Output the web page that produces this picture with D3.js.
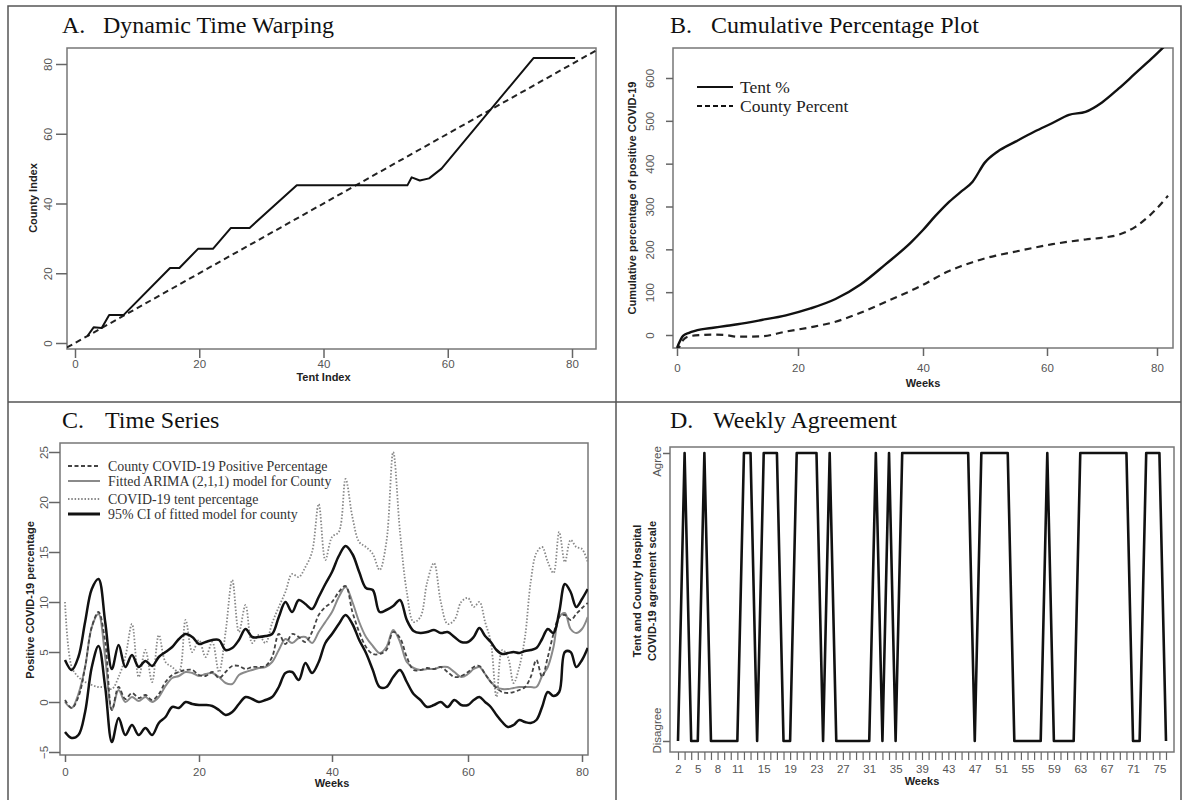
<!DOCTYPE html>
<html>
<head>
<meta charset="utf-8">
<script src="https://cdn.jsdelivr.net/npm/d3@7"></script>
<style>
body { margin: 0; background: #fff; }
svg text { font-family: "Liberation Sans", Arial, sans-serif; }
.title { font-family: "Liberation Serif", "Times New Roman", serif; font-size: 24px; fill: #111; }
.tk { font-size: 11.5px; fill: #555; }
.lab { font-size: 11px; font-weight: bold; fill: #222; }
.leg { font-family: "Liberation Serif", "Times New Roman", serif; fill: #222; }
</style>
</head>
<body>
<svg id="fig" width="1183" height="800"></svg>
<script>
// A. dynamic time warping path
var dtwTent = [2, 3, 4.3, 5.5, 7.8, 15.3, 16.8, 19.8, 22.2, 25.1, 28.1, 35.7, 53.5, 54.2, 55.5, 57, 59, 73.8, 80.5];
var dtwCounty = [2, 4.5, 4.3, 8, 8, 21.5, 21.5, 27, 27, 33, 33, 45.2, 45.2, 47.5, 46.6, 47.2, 50, 81.7, 81.7];
var ticksA = [0, 20, 40, 60, 80];

// B. cumulative percentages
var cumWeeks = [0, 1, 2, 4, 6, 8, 10, 14, 18, 22, 26, 30, 34, 38, 40, 42, 44, 46, 48, 50, 52, 55, 58, 61, 64, 67, 70, 73, 76, 79, 82];
var tentCum = [-30, -2, 5, 13, 17, 21, 25, 35, 46, 62, 84, 118, 165, 215, 245, 278, 308, 333, 358, 403, 428, 452, 475, 495, 514, 521, 543, 575, 610, 645, 682];
var countyCum = [-40, -12, -3, 0, 1, 0, -4, -3, 8, 18, 31, 52, 77, 103, 117, 133, 148, 160, 170, 179, 186, 195, 204, 212, 218, 223, 227, 234, 252, 283, 325];
var ticksBx = [0, 20, 40, 60, 80];
var ticksBy = [0, 100, 200, 300, 400, 500, 600];

// C. weekly time series, weeks 0..81
var weeksC = d3.range(0, 82);
var countyPct = [0.2, -0.6, 0.5, 3.5, 7.5, 9, 6, -0.8, 1.5, 0.3,
  0.9, 0.4, 0.7, 0.2, 0.8, 2, 2.7, 3, 3.2, 3.2,
  2.7, 2.6, 3, 2.4, 3, 3.6, 3.6, 3.3, 3.5, 3.5,
  3.6, 4.5, 6.8, 5.8, 6.8, 6.5, 6, 7, 8.7, 9.5,
  10, 11, 11.6, 9, 7, 5.5, 4.8, 4.8, 5.2, 7,
  6.4, 4.5, 3.2, 3.2, 3.4, 3.3, 3.5, 3, 2.5, 2.6,
  3, 3.5, 3.6, 2.8, 2, 1.4, 1, 0.9, 1, 1.2,
  1.5, 2.5, 4.2, 2.5, 4.5, 6.8, 8.5, 8.7, 8.2, 8.8,
  9.4, 9.9];
var fittedPct = [0, -0.6, 0.8, 3.5, 7.5, 8.8, 4.5, -0.8, 1.2, 0,
  0.5, 0.1, 0.5, 0, 0.5, 1.6, 2.4, 2.6, 3, 2.9,
  2.6, 2.8, 2.9, 2.5, 1.9, 1.8, 2.7, 3, 3.2, 3.4,
  3.5, 4, 5.2, 6.3, 5.9, 6.4, 6.5, 5.9, 7, 8,
  9, 10.5, 11.5, 10, 8, 6.5, 5.6, 4.9, 5.5, 7.2,
  6, 4, 3.4, 3.2, 3.3, 3.3, 3.5, 3.5, 3, 2.5,
  2.8, 3.3, 3.5, 2.8, 2, 1.5, 1.3, 1.3, 1.4, 1.5,
  1.5, 1.5, 1.5, 2.6, 3.5, 5.5, 8.5, 8.9, 7.3, 6.9,
  7.3, 8.5];
var tentPct = [10, 3.5, 2.5, 2, 1.7, 1.5, 1.5, 1.3, 2.5, 4.5,
  7.8, 2.5, 5.2, 2, 6.7, 4, 3.5, 3, 8.2, 5,
  6.2, 4.5, 6, 3, 7, 12.2, 7, 9.7, 5.9, 6.7,
  5.9, 7.9, 9.5, 11, 12.8, 12.5, 13.5, 15, 19.8, 14.2,
  16.5, 17, 22.3, 18.5, 16, 15.5, 14.8, 13.2, 16, 25,
  17, 11, 8, 8.5, 12, 13.9, 10, 7.8, 8.2, 10,
  10.4, 9.5, 10, 8, 6, 0.5, 5.2, 4.5, 1.9, 3.5,
  6.5, 12, 14.9, 15.5, 14, 12.9, 17, 14, 16.2, 15.5,
  15.3, 14];
var upperCI = [4.2, 3.2, 4.5, 8, 11.3, 12.3, 8, 3.3, 5.7, 3.5,
  4.7, 3.5, 4.1, 3.6, 4.5, 5, 5.5, 6.3, 6.8, 6.5,
  5.8, 6, 6.2, 6.2, 5.2, 5.4, 6.2, 7.3, 6.5, 6.5,
  6.6, 6.8, 8.5, 10, 9, 10.2, 9.8, 9.3, 10.5, 11.8,
  13, 14.6, 15.6, 14.8, 13, 11.4, 11.2, 9, 9.2, 9.6,
  10.2, 8.2, 7.1, 6.9, 7, 7.2, 6.9, 7, 6.5, 6,
  6, 6.5, 7.4, 6.6, 6, 5.2, 4.8, 4.9, 5, 4.9,
  5.1, 5.2, 5.4, 6.3, 7.3, 6.9, 9, 11.8, 11, 9.5,
  10.3, 11.3];
var lowerCI = [-3, -3.6, -3.3, -1, 3.5, 5.6, 1.5, -4, -1.6, -3.3,
  -2.3, -3.3, -2.6, -3.3, -2.1, -1.5, -0.5, -0.6, 0, -0.2,
  -0.3, -0.3, -0.4, -0.8, -1.3, -1, -0.2, 0.5, 0.3, 0,
  0.2, 0.5, 1.5, 2.9, 3, 2.2, 3.9, 2.9, 4, 5.9,
  6.8, 7.8, 8.7, 7.8, 6.2, 4.9, 3.2, 1.5, 1.5, 2.5,
  3.2, 2, 0.8, 0.2, -0.5, -0.3, 0, -0.5, 0.2, -0.3,
  -0.3, 0.2, 0.5, 0, -0.5, -1.3, -2, -2.5, -2.3, -1.8,
  -2, -2.1, -1.8, -0.5, 1, 0.6, 1, 5, 5, 3.5,
  4.2, 5.4];
var ticksCx = [0, 20, 40, 60, 80];
var ticksCy = [-5, 0, 5, 10, 15, 20, 25];
var legendC = ['County COVID-19 Positive Percentage', 'Fitted ARIMA (2,1,1) model for County',
  'COVID-19 tent percentage', '95% CI of fitted model for county'];

// D. weekly agreement (1 = agree, 0 = disagree), weeks 2..76
var weeksD = d3.range(2, 77);
var agreement = [0, 1, 0, 0, 1, 0, 0, 0, 0, 0,
  1, 1, 0, 1, 1, 1, 0, 0, 1, 1,
  1, 1, 0, 1, 0, 0, 0, 0, 0, 0,
  1, 0, 1, 0, 1, 1, 1, 1, 1, 1,
  1, 1, 1, 1, 1, 0, 1, 1, 1, 1,
  1, 0, 0, 0, 0, 0, 1, 0, 0, 0,
  0, 1, 1, 1, 1, 1, 1, 1, 1, 0,
  0, 1, 1, 1, 0];
var labelsD = [2, 5, 8, 11, 15, 19, 23, 27, 31, 35, 39, 43, 47, 51, 55, 59, 63, 67, 71, 75];

var svg = d3.select('#fig'),
	clipN = 0;

// outer frame and panel dividers
svg.append('rect').attr('x', 8).attr('y', 6).attr('width', 1173).attr('height', 800)
	.attr('fill', 'none').attr('stroke', '#555').attr('stroke-width', 1.5);
svg.append('line').attr('x1', 616).attr('x2', 616).attr('y1', 6).attr('y2', 800)
	.attr('stroke', '#555').attr('stroke-width', 1.5);
svg.append('line').attr('x1', 8).attr('x2', 1181).attr('y1', 402).attr('y2', 402)
	.attr('stroke', '#555').attr('stroke-width', 1.5);

function title(x, y, letter, text, gap) {
	var t = svg.append('text').attr('class', 'title').attr('y', y);
	t.append('tspan').attr('x', x).text(letter);
	t.append('tspan').attr('x', x + gap).text(text);
}

function box(b) {
	var id = 'clip' + (++clipN);
	svg.append('clipPath').attr('id', id).append('rect')
		.attr('x', b.l).attr('y', b.t).attr('width', b.r - b.l).attr('height', b.b - b.t);
	svg.append('rect').attr('x', b.l).attr('y', b.t).attr('width', b.r - b.l).attr('height', b.b - b.t)
		.attr('fill', 'none').attr('stroke', '#777').attr('stroke-width', 1.5);
	return svg.append('g').attr('clip-path', 'url(#' + id + ')');
}

function xAxis(scale, y0, ticks, len, mid, fmt) {
	var ax = svg.append('g').attr('transform', 'translate(0,' + y0 + ')')
		.call(d3.axisBottom(scale).tickValues(ticks).tickSize(len).tickFormat(fmt || d3.format('d')));
	ax.attr('font-size', null).attr('font-family', null);
	ax.select('.domain').remove();
	ax.selectAll('line').attr('stroke', '#666').attr('stroke-width', 1.5);
	ax.selectAll('text').attr('class', 'tk').attr('fill', null).attr('y', mid).attr('dy', '0.35em');
	return ax;
}

function yAxis(scale, x0, ticks, len, off, fmt, shift) {
	var ax = svg.append('g').attr('transform', 'translate(' + x0 + ',0)')
		.call(d3.axisLeft(scale).tickValues(ticks).tickSize(len).tickFormat(fmt || d3.format('d')));
	ax.attr('font-size', null).attr('font-family', null);
	ax.select('.domain').remove();
	ax.selectAll('line').attr('stroke', '#666').attr('stroke-width', 1.5);
	ax.selectAll('text').attr('class', 'tk').attr('fill', null)
		.attr('x', 0).attr('dy', null).attr('text-anchor', 'middle')
		.attr('transform', function(d) { return 'translate(' + (-off) + ',' + (shift ? shift(d) : 0) + ') rotate(-90)'; });
	return ax;
}

function label(x, y, text, rotate) {
	return svg.append('text').attr('class', 'lab').attr('text-anchor', 'middle').attr('dy', '0.35em')
		.attr('transform', 'translate(' + x + ',' + y + ')' + (rotate ? ' rotate(-90)' : ''))
		.text(text);
}

// ---------- A ----------
title(62, 33, 'A.', 'Dynamic Time Warping', 41);
var bA = {l: 67, t: 48, r: 596, b: 349},
	xA = d3.scaleLinear().domain([0, 80]).range([75, 572]),
	yA = d3.scaleLinear().domain([0, 80]).range([343, 64]),
	gA = box(bA);
var diag = [xA.invert(bA.l), xA.invert(bA.r)];
gA.append('path').datum(diag)
	.attr('d', d3.line().x(function(d) { return xA(d); }).y(function(d) { return yA(d); }))
	.attr('fill', 'none').attr('stroke', '#222').attr('stroke-width', 2).attr('stroke-dasharray', '6,4');
gA.append('path').datum(d3.range(dtwTent.length))
	.attr('d', d3.line().x(function(i) { return xA(dtwTent[i]); }).y(function(i) { return yA(dtwCounty[i]); }))
	.attr('fill', 'none').attr('stroke', '#111').attr('stroke-width', 2).attr('stroke-linejoin', 'round');
xAxis(xA, bA.b, ticksA, 9, 15);
yAxis(yA, bA.l, ticksA, 11, 15);
label(xA(40), 377, 'Tent Index');
label(33, 198, 'County Index', true);

// ---------- B ----------
title(670, 33, 'B.', 'Cumulative Percentage Plot', 41);
var bB = {l: 673, t: 48, r: 1173, b: 348},
	xB = d3.scaleLinear().domain([0, 20, 40, 60, 80]).range([677, 798, 923, 1047, 1157]),
	yB = d3.scaleLinear().domain([0, 600]).range([335, 78]),
	gB = box(bB),
	lineB = function(vals) {
		return d3.line().curve(d3.curveMonotoneX)
			.x(function(i) { return xB(cumWeeks[i]); }).y(function(i) { return yB(vals[i]); });
	};
gB.append('path').datum(d3.range(cumWeeks.length)).attr('d', lineB(countyCum))
	.attr('fill', 'none').attr('stroke', '#222').attr('stroke-width', 2.2).attr('stroke-dasharray', '7,5');
gB.append('path').datum(d3.range(cumWeeks.length)).attr('d', lineB(tentCum))
	.attr('fill', 'none').attr('stroke', '#111').attr('stroke-width', 2.4);
xAxis(xB, bB.b, ticksBx, 8, 20);
yAxis(yB, bB.l, ticksBy, 7, 19);
label(923, 383, 'Weeks');
label(632, 198, 'Cumulative percentage of positive COVID-19', true);
[['Tent %', null], ['County Percent', '5,3']].forEach(function(d, i) {
	var y = 87 + i * 19;
	svg.append('line').attr('x1', 697).attr('x2', 733).attr('y1', y).attr('y2', y)
		.attr('stroke', '#111').attr('stroke-width', 2.2).attr('stroke-dasharray', d[1]);
	svg.append('text').attr('class', 'leg').attr('x', 740).attr('y', y).attr('dy', '0.33em')
		.style('font-size', '17.5px').text(d[0]);
});

// ---------- C ----------
title(62, 428, 'C.', 'Time Series', 43);
var bC = {l: 60, t: 443, r: 588, b: 755},
	xC = d3.scaleLinear().domain([0, 20, 40, 60, 80]).range([65, 199, 332, 468, 582]),
	yC = d3.scaleLinear().domain([0, 25]).range([702, 452]),
	gC = box(bC),
	lineC = function(vals) {
		return d3.line().curve(d3.curveCatmullRom.alpha(0.5))
			.x(function(i) { return xC(weeksC[i]); }).y(function(i) { return yC(vals[i]); });
	};
var stylesC = [
	{vals: tentPct, stroke: '#888', width: 1.8, dash: '1.5,1.8'},
	{vals: fittedPct, stroke: '#8a8a8a', width: 2, dash: null},
	{vals: countyPct, stroke: '#444', width: 1.8, dash: '4,2.5'},
	{vals: upperCI, stroke: '#111', width: 2.5, dash: null},
	{vals: lowerCI, stroke: '#111', width: 2.5, dash: null}
];
stylesC.forEach(function(s) {
	gC.append('path').datum(d3.range(weeksC.length)).attr('d', lineC(s.vals))
		.attr('fill', 'none').attr('stroke', s.stroke).attr('stroke-width', s.width)
		.attr('stroke-dasharray', s.dash).attr('stroke-linejoin', 'round');
});
var legStyles = [stylesC[2], stylesC[1], stylesC[0], stylesC[3]],
	legY = [466, 481, 499, 514];
legendC.forEach(function(t, i) {
	var s = legStyles[i];
	svg.append('line').attr('x1', 68).attr('x2', 100).attr('y1', legY[i]).attr('y2', legY[i])
		.attr('stroke', s.stroke).attr('stroke-width', i === 3 ? 3 : s.width).attr('stroke-dasharray', s.dash);
	svg.append('text').attr('class', 'leg').attr('x', 108).attr('y', legY[i]).attr('dy', '0.33em')
		.style('font-size', '13.9px').style('fill', '#333').text(t);
});
xAxis(xC, bC.b, ticksCx, 7, 17);
yAxis(yC, bC.l, ticksCy, 11, 12);
label(332, 783, 'Weeks');
label(30, 600, 'Positive COVID-19 percentage', true);

// ---------- D ----------
title(670, 428, 'D.', 'Weekly Agreement', 43);
var bD = {l: 670, t: 447, r: 1174, b: 752},
	xD = d3.scaleLinear().domain([2, 76]).range([678, 1166]),
	yD = d3.scaleLinear().domain([0, 1]).range([741, 453]),
	gD = box(bD);
gD.append('path').datum(d3.range(weeksD.length))
	.attr('d', d3.line().x(function(i) { return xD(weeksD[i]); }).y(function(i) { return yD(agreement[i]); }))
	.attr('fill', 'none').attr('stroke', '#111').attr('stroke-width', 2.6).attr('stroke-linejoin', 'round');
xAxis(xD, bD.b, weeksD, 8, 17, function(d) { return labelsD.indexOf(d) >= 0 ? d : ''; })
	.selectAll('line').attr('stroke-width', 1.2);
yAxis(yD, bD.l, [0, 1], 7, 9, function(d) { return d ? 'Agree' : 'Disagree'; },
	function(d) { return d ? 8 : -11; });
label(922, 781, 'Weeks');
label(637, 591, 'Tent and County Hospital', true);
label(652, 591, 'COVID-19 agreement scale', true);
</script>
</body>
</html>
